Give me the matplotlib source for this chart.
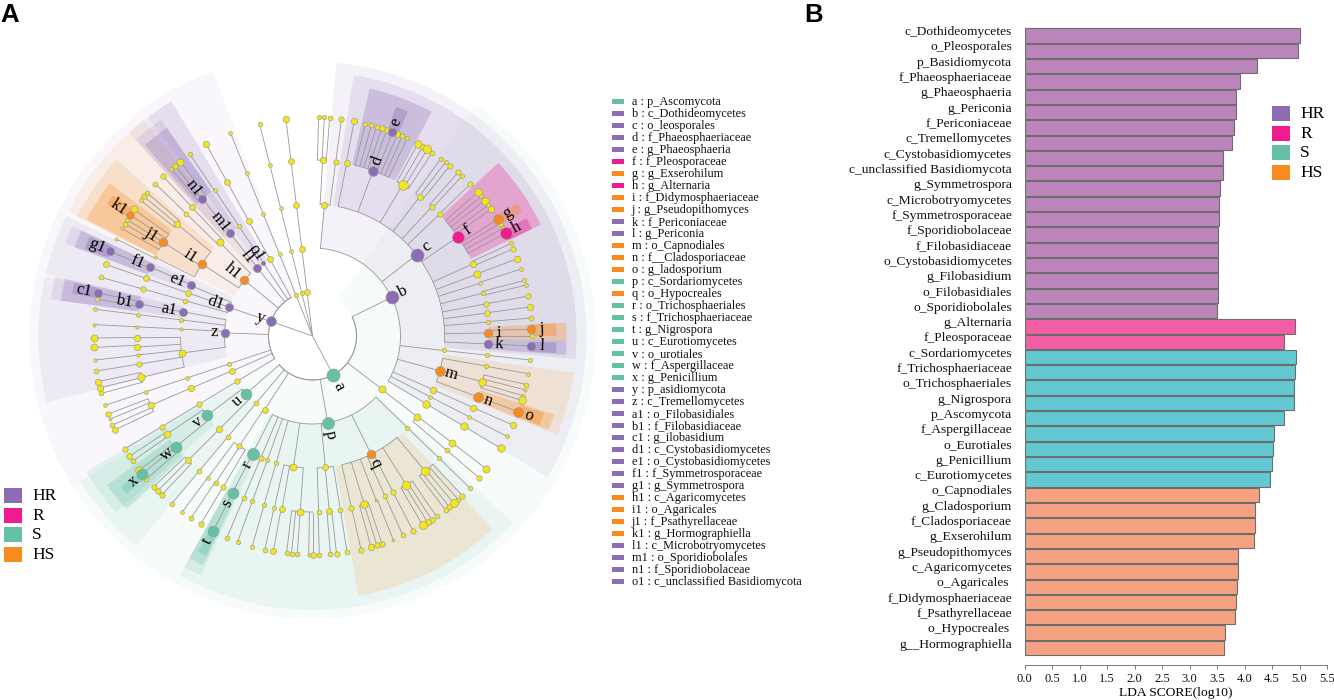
import numpy as np
import matplotlib
matplotlib.use('Agg')
import matplotlib.pyplot as plt
from matplotlib.patches import Rectangle

plt.rcParams['font.family'] = ['Liberation Serif', 'DejaVu Serif']

# ---------- colours ----------
GROUP_NAMES = ['HR', 'R', 'S', 'HS']
GROUP_COLORS = {'HR': '#8a6db3', 'R': '#ee1c8e', 'S': '#64c1a6', 'HS': '#f88b1f'}
BAR_COLORS = {'HR': '#bb85bb', 'R': '#f35fa5', 'S': '#62c8d2', 'HS': '#f7a183'}

# ---------- panel B data ----------
BAR_NAMES_HR = ['c_Dothideomycetes', 'o_Pleosporales', 'p_Basidiomycota', 'f_Phaeosphaeriaceae', 'g_Phaeosphaeria',
                'g_Periconia', 'f_Periconiaceae', 'c_Tremellomycetes', 'c_Cystobasidiomycetes',
                'c_unclassified Basidiomycota', 'g_Symmetrospora', 'c_Microbotryomycetes', 'f_Symmetrosporaceae',
                'f_Sporidiobolaceae', 'f_Filobasidiaceae', 'o_Cystobasidiomycetes', 'g_Filobasidium',
                'o_Filobasidiales', 'o_Sporidiobolales']
BAR_VALUES_HR = [5.00, 4.97, 4.22, 3.91, 3.85, 3.84, 3.80, 3.78, 3.60, 3.60, 3.55, 3.54, 3.53, 3.52, 3.52, 3.52, 3.51, 3.51, 3.50]
BAR_NAMES_R = ['g_Alternaria', 'f_Pleosporaceae']
BAR_VALUES_R = [4.91, 4.71]
BAR_NAMES_S = ['c_Sordariomycetes', 'f_Trichosphaeriaceae', 'o_Trichosphaeriales', 'g_Nigrospora', 'p_Ascomycota',
               'f_Aspergillaceae', 'o_Eurotiales', 'g_Penicillium', 'c_Eurotiomycetes']
BAR_VALUES_S = [4.94, 4.92, 4.90, 4.90, 4.71, 4.53, 4.51, 4.50, 4.46]
BAR_NAMES_HS = ['o_Capnodiales', 'g_Cladosporium', 'f_Cladosporiaceae', 'g_Exserohilum', 'g_Pseudopithomyces',
                'c_Agaricomycetes', 'o_Agaricales ', 'f_Didymosphaeriaceae', 'f_Psathyrellaceae', 'o_Hypocreales ',
                'g__Hormographiella']
BAR_VALUES_HS = [4.26, 4.19, 4.19, 4.17, 3.89, 3.88, 3.86, 3.84, 3.83, 3.65, 3.62]
X_TICKS = [0.0, 0.5, 1.0, 1.5, 2.0, 2.5, 3.0, 3.5, 4.0, 4.5, 5.0, 5.5]

# ---------- panel A legend ----------
KEY_LETTERS = ['a', 'b', 'c', 'd', 'e', 'f', 'g', 'h', 'i', 'j', 'k', 'l', 'm', 'n', 'o', 'p', 'q', 'r', 's', 't', 'u',
               'v', 'w', 'x', 'y', 'z', 'a1', 'b1', 'c1', 'd1', 'e1', 'f1', 'g1', 'h1', 'i1', 'j1', 'k1', 'l1', 'm1',
               'n1', 'o1']
KEY_NAMES = ['p_Ascomycota', 'c_Dothideomycetes', 'o_leosporales', 'f_Phaeosphaeriaceae', 'g_Phaeosphaeria',
             'f_Pleosporaceae', 'g_Exserohilum', 'g_Alternaria', 'f_Didymosphaeriaceae', 'g_Pseudopithomyces',
             'f_Periconiaceae', 'g_Periconia', 'o_Capnodiales', 'f__Cladosporiaceae', 'g_ladosporium',
             'c_Sordariomycetes', 'o_Hypocreales', 'o_Trichosphaeriales', 'f_Trichosphaeriaceae', 'g_Nigrospora',
             'c_Eurotiomycetes', 'o_urotiales', 'f_Aspergillaceae', 'g_Penicillium', 'p_asidiomycota',
             'c_Tremellomycetes', 'o_Filobasidiales', 'f_Filobasidiaceae', 'g_ilobasidium', 'c_Cystobasidiomycetes',
             'o_Cystobasidiomycetes', 'f_Symmetrosporaceae', 'g_Symmetrospora', 'c_Agaricomycetes', 'o_Agaricales',
             'f_Psathyrellaceae', 'g_Hormographiella', 'c_Microbotryomycetes', 'o_Sporidiobolales',
             'f_Sporidiobolaceae', 'c_unclassified Basidiomycota']
KEY_GROUPS = ['S', 'HR', 'HR', 'HR', 'HR', 'R', 'HS', 'R', 'HS', 'HS', 'HR', 'HR', 'HS', 'HS', 'HS', 'S', 'HS', 'S', 'S',
              'S', 'S', 'S', 'S', 'S', 'HR', 'HR', 'HR', 'HR', 'HR', 'HR', 'HR', 'HR', 'HR', 'HS', 'HS', 'HS', 'HS',
              'HR', 'HR', 'HR', 'HR']


# ---------- panel A tree: (compass angle in degrees, dot diameter, tag, children) ----------
def N(theta, d=4.5, tag='', kids=()):
    return (theta, d, tag, list(kids))


def chain(theta, *ds):
    node = N(theta, ds[-1])
    for d in reversed(ds[:-1]):
        node = N(theta, d, '', [node])
    return node


FAM_D = N(20.1, 9, 'd', [N(14, 4), N(15.6, 4.5), N(17, 4.5), N(18.4, 5), N(19.8, 5), N(21.4, 8, 'e'), N(22.8, 6),
                         N(24.2, 4.5), N(25.6, 4)])
FAM_F = N(55.7, 11, 'f', [N(49, 7), N(50.4, 3.5), N(51.8, 7), N(53.3, 3.5), N(54.6, 6), N(57.8, 9, 'g'), N(59, 6),
                          N(60.5, 4), N(62, 11, 'h')])
FAMILIES_C = [N(11.2, 5.5, '', [N(11, 6)]), FAM_D,
              N(30.8, 9, '', [N(28.7, 7), N(30.2, 5.5), N(31.6, 8), N(33.1, 4.5)]),
              N(37.6, 5.5, '', [N(35.9, 4), N(37.4, 4), N(38.9, 5)]),
              N(42.7, 5, '', [N(41.7, 5), N(43.1, 4)]),
              N(46.2, 5, '', [N(46.1, 5)]), FAM_F,
              N(65.8, 6, '', [N(65, 4), N(66.5, 5)]), N(69.4, 6.5, '', [N(69.3, 6)]),
              N(72.5, 3.5, '', [N(72.2, 3.5)]), N(75.9, 4, '', [N(75.3, 4), N(76.6, 3.5)]),
              N(79.5, 5, '', [N(79.5, 5)]), N(82.5, 5.5, '', [N(82.4, 6)]), N(85.5, 4, '', [N(85.3, 4.5)]),
              N(89, 8, 'i', [N(88.2, 8, 'j'), N(90, 4.5)]), N(92.6, 8, 'k', [N(92.6, 8, 'l')])]
ORDERS_B = [N(5.2, 6, '', [N(3.3, 6, '', [N(1.6, 4), N(3.1, 4), N(4.5, 4.5)]), N(7.6, 5, '', [N(7.6, 5)])]),
            N(52, 12, 'c', FAMILIES_C),
            chain(96.3, 4, 4, 4),
            N(105.3, 9, 'm', [N(99.8, 4, '', [N(99.9, 3.5)]),
                              N(105.1, 7, '', [N(102.8, 4.5), N(104.2, 3), N(105.8, 3.5), N(107.1, 7)]),
                              N(110.2, 9, 'n', [N(110.2, 9, 'o')])]),
            chain(114, 6, 6, 6), chain(117.3, 3.5, 3.5, 3.5), chain(120.8, 7, 7, 7)]
CLASS_B = N(64, 12, 'b', ORDERS_B)
CLASS_127 = N(127.4, 6.5, '', [N(127.6, 6.5, '', [N(127.4, 6.5, '', [N(127.4, 6.5)]), N(130.4, 4.5, '', [N(130.4, 5)])])])

FAMILIES_Q = [N(140.2, 8, '', [N(136.8, 5), N(138.3, 4), N(139.8, 7.5), N(141.3, 5), N(142.6, 4.5)]),
              N(147.8, 8, '', [N(145.5, 4.5), N(147, 5), N(148.3, 5.5), N(149.8, 7.5)]),
              N(152.7, 5, '', [N(152.7, 5)]), N(155.6, 4.5, '', [N(155.6, 4.5)]), N(158.8, 2.5, '', [N(158.4, 2.5)]),
              N(162.9, 7, '', [N(161.5, 5), N(162.9, 5), N(164.5, 6)]), N(167.2, 5, '', [N(167.2, 5)])]
ORDERS_P = [chain(134, 4, 4, 4),
            N(153.6, 8, 'q', FAMILIES_Q),
            N(174.4, 5.5, '', [N(170.9, 4.5, '', [N(170.9, 4.5)]), N(174.5, 5.5, '', [N(173.7, 5), N(175.3, 4.5)]),
                               N(178, 4.5, '', [N(178.2, 4.5)])]),
            N(188.3, 6.5, '', [N(184, 6.5, '', [N(180, 5.5), N(181, 3), N(184, 4.5), N(185.5, 4.5), N(186.8, 4.5)]),
                               N(190, 5.5, '', [N(190.3, 5.5)]), N(192.5, 4, '', [N(192.6, 4.5)])]),
            chain(196, 4, 4, 4), chain(200, 4, 4, 4), chain(203, 5, 4.5, 4.5),
            N(207, 11, 'r', [N(207, 10, 's', [N(207, 10, 't')])])]
CLASS_P = N(170, 11, 'p', ORDERS_P)
CLASS_U = N(229, 10, 'u', [
    N(233, 10, 'v', [N(236, 6.5, '', [N(236.7, 5.5), N(235.2, 4.5)]),
                     N(231, 10, 'w', [N(232.2, 7), N(231, 10, 'x'), N(229.3, 4.5)])]),
    N(225, 6, '', [N(225, 5.5, '', [N(226.5, 5), N(225, 5), N(223.5, 5)])])])
CLASS_220 = chain(220, 4.5, 4.5, 4.5, 4.5)
CLASS_213 = N(213, 5.5, '', [N(213.6, 5, '', [N(216.4, 3.5, '', [N(216.5, 3.5)]), N(213.4, 4.5, '', [N(213.7, 4.5)]),
                                              N(210.6, 5, '', [N(210.7, 5)])])])
PHYLUM_A = N(152, 12, 'a', [CLASS_B, CLASS_127, CLASS_P, CLASS_U, CLASS_220, CLASS_213])

CLASS_Z = N(-88, 8, 'z', [
    N(-79.4, 7.5, 'a1', [N(-79.5, 7.5, 'b1', [N(-78.7, 7.5, 'c1'), N(-80.3, 3.5)])]),
    chain(-83, 4, 3.5, 3.5), chain(-87, 3, 3, 3),
    N(-97.4, 6.5, '', [N(-90.6, 6, '', [N(-90.5, 6.5)]), N(-93.6, 6, '', [N(-93, 6.5)]), N(-96.2, 3.2, '', [N(-96.3, 3.2)]),
                       N(-99.2, 5, '', [N(-99.2, 4.5)]), N(-103.6, 7, '', [N(-102, 6), N(-103.7, 6), N(-105.2, 4.5)])])])
CLASS_D1 = N(-71, 7.5, 'd1', [N(-67.5, 7.5, 'e1', [N(-67, 7.5, 'f1', [N(-67.3, 7.5, 'g1')])]),
                              N(-70.9, 5.5, '', [N(-70.9, 5.5, '', [N(-70.9, 5.5)])]),
                              N(-74.5, 4.5, '', [N(-74.5, 5, '', [N(-74.5, 4.5)])])])
CLASS_H1 = N(-50.7, 8, 'h1', [
    N(-56.9, 8, 'i1', [N(-50.4, 6, '', [N(-51.7, 3.5), N(-50.4, 5), N(-49.1, 4)]),
                       N(-57.9, 8, 'j1', [N(-54.7, 6.5), N(-56.4, 7, 'k1'), N(-57.9, 4), N(-59.1, 4.5), N(-60.6, 3)]),
                       N(-63.4, 3, '', [N(-63.7, 3)])]),
    N(-44.7, 6.5, '', [N(-43.1, 5.5, '', [N(-43.1, 5)]), N(-45.9, 4.5, '', [N(-45.9, 4.5)])])])
CLASS_L1 = N(-39, 7.5, 'l1', [N(-38.8, 7.5, 'm1', [N(-38.7, 7.5, 'n1', [N(-37.2, 6.5), N(-38.9, 5), N(-40.2, 3.5)])])])
CLASS_O1 = N(-34, 4, 'o1', [N(-33.8, 4, '', [N(-33.8, 3.5, '', [N(-34, 4)])])])
PHYLUM_Y = N(-70.7, 9, 'y', [
    chain(-121, 5, 5, 5, 5),
    N(-113.5, 5.5, '', [N(-113.3, 6, '', [N(-113.2, 6, '', [N(-110.9, 5), N(-112.3, 3), N(-114, 4.5), N(-115.4, 5.5)])])]),
    chain(-108.5, 4, 3.5, 3.5, 3.5), CLASS_Z, CLASS_D1, CLASS_H1, CLASS_L1, CLASS_O1, chain(-29, 5.5, 5.5, 5.5, 6)])
PHYLA_OTHER = [chain(-7, 5.5, 5.5, 5.5, 5.5, 6), chain(-14, 4, 3.5, 3.5, 3.5, 4), chain(-22, 4, 3.5, 3.5, 3.5, 3.5)]

LEVEL_RADIUS = [0, 44, 88, 132, 176, 219]
SHADE_OUTER = [0, 283, 274, 264, 254, 244]
SHADE_ALPHA = [0, 0.05, 0.09, 0.14, 0.28, 0.36]

# shaded sectors: tag -> compass range
SHADE_SPANS = {'a': (35, 238), 'y': (238, 339.4), 'b': (5, 121), 'c': (9, 95), 'd': (13, 28), 'e': (20, 23),
               'f': (47, 64), 'g': (57, 59.4), 'h': (61.2, 64), 'i': (87, 91), 'j': (87, 90), 'k': (91, 94.3),
               'l': (91.5, 94), 'm': (98, 112), 'n': (108, 111.7), 'o': (108.4, 111.5), 'p': (133, 209),
               'q': (137, 170), 'r': (205, 209), 's': (205.5, 209), 't': (205.8, 208), 'u': (220, 238),
               'v': (228, 239), 'w': (227, 234), 'x': (229.7, 231.8), 'z': (256, 282.6), 'a1': (278, 283),
               'b1': (278, 283), 'c1': (280, 282.6), 'd1': (283, 296), 'e1': (290.5, 294.5), 'f1': (290.5, 294.5),
               'g1': (291, 294), 'h1': (297, 322), 'i1': (297, 312), 'j1': (297.3, 307), 'k1': (302.7, 305.2),
               'l1': (318, 329), 'm1': (318, 325), 'n1': (318.7, 325), 'o1': (323, 329)}

# ---------- figure ----------
fig = plt.figure(figsize=(13.34, 7.0), dpi=100)
W, H = 1334.0, 700.0


def px_axes(x0, y0, x1, y1, **kw):
    return fig.add_axes([x0 / W, 1 - y1 / H, (x1 - x0) / W, (y1 - y0) / H], **kw)


overlay = px_axes(0, 0, W, H)
overlay.set_xlim(0, W)
overlay.set_ylim(H, 0)
overlay.axis('off')
overlay.set_zorder(5)

# ---------- panel A cladogram ----------
CX, CY, RMAX = 312.5, 336.0, 292.0
ax = px_axes(CX - RMAX, CY - RMAX, CX + RMAX, CY + RMAX, projection='polar')
ax.set_theta_zero_location('N')
ax.set_theta_direction(-1)
ax.set_rlim(0, RMAX)
ax.axis('off')

group_of = dict(zip(KEY_LETTERS, KEY_GROUPS))
levels = {}
edges, arcs, dots, labels = [], [], [], []


def walk(node, level, parent_r):
    theta, d, tag, kids = node
    r = LEVEL_RADIUS[level]
    edges.append((theta, parent_r, r))
    dots.append((theta, r, d, tag))
    if tag:
        levels[tag] = level
        labels.append((theta, r, tag, d))
    if kids:
        ts = [k[0] for k in kids] + [theta]
        if max(ts) > min(ts):
            arcs.append((min(ts), max(ts), r))
    for k in kids:
        walk(k, level + 1, r)


for phylum in [PHYLUM_A, PHYLUM_Y] + PHYLA_OTHER:
    walk(phylum, 1, 0)
arcs.append((65, 229, 44))
arcs.append((-121, -29, 44))

for tag, (t0, t1) in SHADE_SPANS.items():
    lv = levels[tag]
    r0, r1 = LEVEL_RADIUS[lv], SHADE_OUTER[lv]
    ax.bar(np.radians((t0 + t1) / 2), r1 - r0, width=np.radians(t1 - t0), bottom=r0,
           color=GROUP_COLORS[group_of[tag]], alpha=SHADE_ALPHA[lv], linewidth=0, zorder=lv)

for theta, r0, r1 in edges:
    ax.plot([np.radians(theta)] * 2, [r0, r1], color='#989898', lw=0.6, zorder=10, solid_capstyle='butt')
for t0, t1, r in arcs:
    ax.plot(np.radians(np.linspace(t0, t1, 60)), np.full(60, r), color='#989898', lw=0.6, zorder=10)
for theta, r, d, tag in dots:
    c = GROUP_COLORS[group_of[tag]] if tag else '#f2e617'
    ax.scatter(np.radians(theta), r, s=(d * 0.78) ** 2, c=c, edgecolors='#9a9a9a', linewidths=0.45,
               zorder=12 if tag else 11, clip_on=False)
for theta, r, tag, d in labels:
    c = theta % 360
    rot = 90 - c if c <= 180 else 270 - c
    off = d / 2 + (6.5 if len(tag) == 1 else 10.5)
    ax.text(np.radians(theta), r + off, tag, fontsize=12, color='black', ha='center', va='center',
            rotation=rot, rotation_mode='anchor', zorder=20)

# legends and key, drawn in page pixels
for i, g in enumerate(GROUP_NAMES):
    y = 488 + i * 19.7
    overlay.add_patch(Rectangle((4, y), 18, 15, color=GROUP_COLORS[g], lw=0))
    overlay.text(32, y + 8, g, fontsize=12.5, va='center', ha='left')
    y2 = 106 + i * 19.6
    overlay.add_patch(Rectangle((1272, y2), 18, 15, color=GROUP_COLORS[g], lw=0))
    overlay.text(1300, y2 + 8, g, fontsize=12.5, va='center', ha='left')

for i, (lt, nm, g) in enumerate(zip(KEY_LETTERS, KEY_NAMES, KEY_GROUPS)):
    y = 101.7 + i * 12.0
    overlay.add_patch(Rectangle((612, y - 2.7), 12, 5.4, color=GROUP_COLORS[g], lw=0))
    overlay.text(631.5, y, f'{lt} : {nm}', fontsize=8.8, va='center', ha='left', color='#111111')

overlay.text(0, 15.5, 'A', fontsize=18.5, fontweight='bold', family='Liberation Sans', va='center', ha='left')
overlay.text(804.5, 15, 'B', fontsize=18.5, fontweight='bold', family='Liberation Sans', va='center', ha='left')

# ---------- panel B bars ----------
names = BAR_NAMES_HR + BAR_NAMES_R + BAR_NAMES_S + BAR_NAMES_HS
values = BAR_VALUES_HR + BAR_VALUES_R + BAR_VALUES_S + BAR_VALUES_HS
groups = (['HR'] * len(BAR_NAMES_HR) + ['R'] * len(BAR_NAMES_R) + ['S'] * len(BAR_NAMES_S) + ['HS'] * len(BAR_NAMES_HS))
ROW = 15.31
FIRST = 35.5
AX_TOP, AX_BOTTOM = 22, 665
bx = px_axes(1024.5, AX_TOP, 1327, AX_BOTTOM)
bx.set_xlim(0, 5.5)
bx.set_ylim((AX_BOTTOM - FIRST) / ROW, (AX_TOP - FIRST) / ROW)
rows = np.arange(len(names))
bx.barh(rows, values, height=0.935, color=[BAR_COLORS[g] for g in groups], edgecolor='#6d6d6d', linewidth=0.8)
bx.set_yticks([])
for row, name in zip(rows, names):
    bx.annotate(name, xy=(0, row), xytext=(-9, 2.4), textcoords='offset points', ha='right', va='center',
                fontsize=9.7, color='#111111', annotation_clip=False)
bx.set_xticks(X_TICKS)
bx.set_xticklabels([f'{v:.1f}' for v in X_TICKS], fontsize=9, color='#111111')
bx.tick_params(axis='x', length=3, width=0.7, color='#777777', pad=2.5)
for s in ['top', 'right', 'left']:
    bx.spines[s].set_visible(False)
bx.spines['bottom'].set_color('#777777')
bx.spines['bottom'].set_linewidth(0.7)
bx.set_xlabel('LDA SCORE(log10)', fontsize=9.7, labelpad=2)

fig.savefig('out.png', dpi=100)
